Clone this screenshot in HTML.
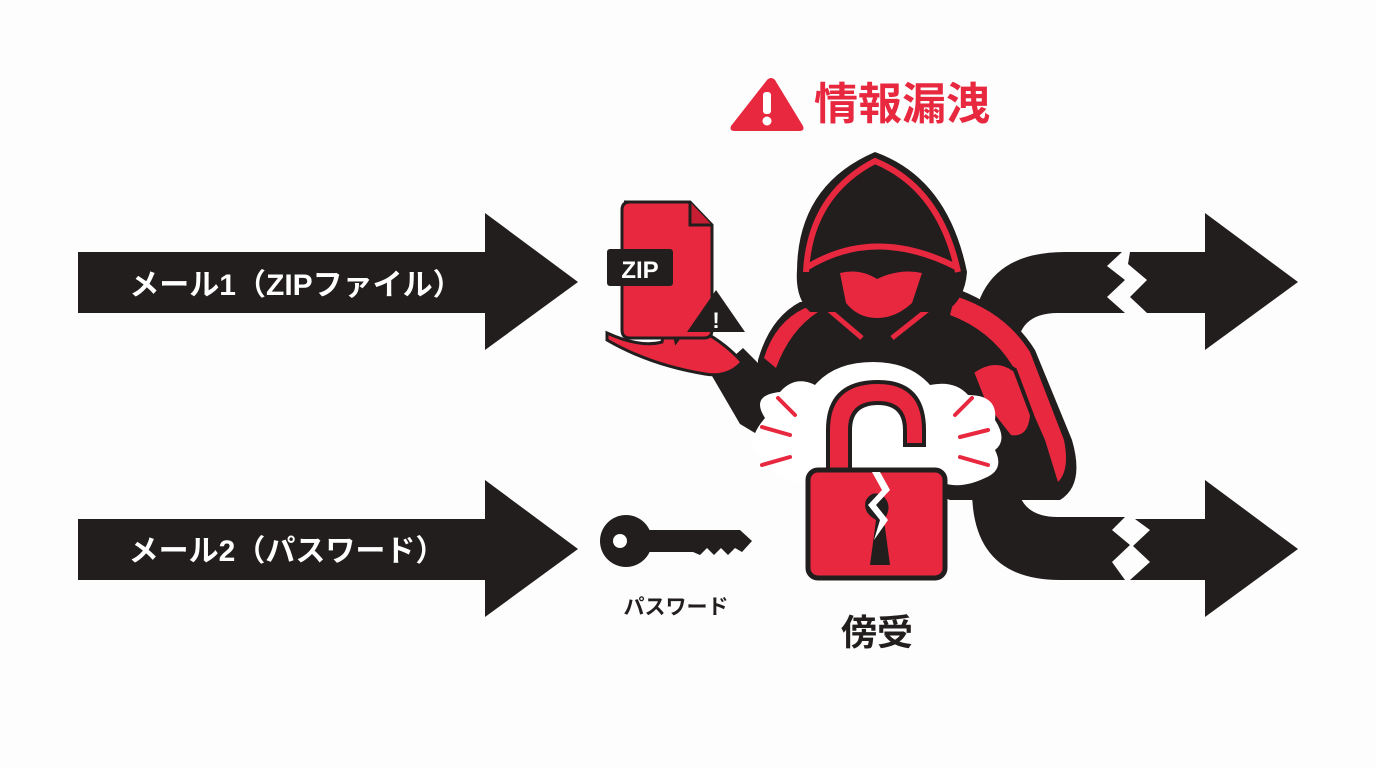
<!DOCTYPE html>
<html><head><meta charset="utf-8"><style>
html,body{margin:0;padding:0;background:#fdfdfd;}
svg{display:block}
text{font-family:"Liberation Sans","Noto Sans CJK JP",sans-serif;font-weight:bold}
</style></head><body>
<svg width="1376" height="768" viewBox="0 0 1376 768">
<rect width="1376" height="768" fill="#fdfdfd"/>
<!-- left arrows -->
<polygon points="78,252 485,252 485,213 578,282 485,350 485,313 78,313" fill="#221e1e"/>
<polygon points="78,519 485,519 485,480 578,549 485,617 485,580 78,580" fill="#221e1e"/>
<text x="296" y="295" font-size="30" fill="#fff" text-anchor="middle">メール1（ZIPファイル）</text>
<text x="287" y="561" font-size="30" fill="#fff" text-anchor="middle">メール2（パスワード）</text>
<!-- C shape -->
<path d="M1122,252 L1065,252 Q972,252 972,345 L972,490 Q972,580 1060,580 L1125,580 L1112,562 L1130,545 L1112,530 L1125,517 L1058,517 Q1017,517 1017,478 L1017,352 Q1017,313 1058,313 L1125,313 L1107,297 L1125,280 L1107,266 Z" fill="#221e1e"/>
<polygon points="1130,252 1205,252 1205,213 1298,282 1205,350 1205,313 1147,313 1130,297 1147,280 1128,264" fill="#221e1e"/>
<polygon points="1135,519 1205,519 1205,480 1298,549 1205,617 1205,580 1130,580 1150,562 1133,546 1150,530" fill="#221e1e"/>
<!-- left arm -->
<path d="M743,348 L712,376 L740,424 L760,436 L775,380 Z" fill="#221e1e"/>
<!-- body -->
<path d="M758,360 Q770,318 800,302 L960,290 Q1010,310 1035,350 L1072,440 Q1085,485 1060,500 L950,500 L800,440 L758,440 Z" fill="#221e1e"/>
<!-- shoulder red bands -->
<path d="M764,358 Q775,322 805,308 L818,312 Q790,330 776,368 Z" fill="#e8283f"/>
<path d="M955,296 Q1005,312 1030,352 L1064,440 Q1070,470 1058,482 L1045,440 L1012,365 Q990,330 950,315 Z" fill="#e8283f"/>
<path d="M808,292 L862,338" stroke="#e8283f" stroke-width="5"/>
<path d="M950,292 L892,338" stroke="#e8283f" stroke-width="5"/>
<!-- hood -->
<path d="M797,270 Q798,185 875,152 Q948,178 967,272 Q965,300 945,312 L810,312 Q795,298 797,270 Z" fill="#221e1e"/>
<path d="M806,272 Q810,195 875,161 Q940,188 958,272" fill="none" stroke="#e8283f" stroke-width="6"/>
<path d="M806,268 Q875,225 958,268" fill="none" stroke="#e8283f" stroke-width="6"/>
<path d="M840,273 Q860,268 877,279 Q900,268 922,273 L912,303 Q896,318 877,318 Q858,318 846,303 Z" fill="#e8283f"/>
<!-- left hand -->
<path d="M607,333 Q640,348 662,342 L668,305 L676,342 L692,320 L704,332 Q726,344 742,362 Q728,378 705,374 Q650,365 607,340 Z" fill="#e8283f" stroke="#221e1e" stroke-width="3"/>
<!-- zip file -->
<path d="M624,202 L690,202 L712,225 L712,330 Q712,338 704,338 L630,338 Q622,338 622,330 L622,210 Q622,202 630,202 Z" fill="#e8283f" stroke="#221e1e" stroke-width="3"/>
<path d="M690,202 L690,225 L712,225" fill="#c81e33" stroke="#221e1e" stroke-width="3"/>
<rect x="607" y="249" width="66" height="37" rx="3" fill="#221e1e"/>
<text x="640" y="278" font-size="24" fill="#fff" text-anchor="middle">ZIP</text>
<polygon points="716,290 745,332 687,332" fill="#221e1e"/>
<text x="716" y="328" font-size="22" fill="#fff" text-anchor="middle">!</text>
<!-- right fist -->
<path d="M972,372 Q995,355 1015,370 L1032,415 Q1030,440 1010,437 L985,405 Z" fill="#e8283f" stroke="#221e1e" stroke-width="4"/>
<!-- burst -->
<path d="M765,418 Q750,395 780,392 Q795,375 815,385 Q835,362 873,362 Q910,362 930,385 Q955,380 968,395 Q998,395 995,420 Q1008,440 995,450 Q1005,470 985,478 Q960,490 940,482 L800,482 Q770,478 762,460 Q742,445 765,418 Z" fill="#fff"/>
<g stroke="#e8283f" stroke-width="4" stroke-linecap="round">
<line x1="778" y1="398" x2="795" y2="415"/><line x1="762" y1="427" x2="790" y2="435"/><line x1="762" y1="465" x2="790" y2="457"/>
<line x1="955" y1="415" x2="972" y2="398"/><line x1="960" y1="437" x2="988" y2="430"/><line x1="960" y1="457" x2="988" y2="465"/>
</g>
<!-- lock -->
<path d="M828,480 L828,430 Q828,382 878,382 Q924,382 924,430 L924,445 L905,445 L905,430 Q905,403 878,403 Q850,403 850,430 L850,480 Z" fill="#e8283f" stroke="#221e1e" stroke-width="4"/>
<rect x="808" y="470" width="137" height="108" rx="10" fill="#e8283f" stroke="#221e1e" stroke-width="5"/>
<path d="M870,565 L876,520 Q862,512 866,500 Q872,490 882,495 Q894,505 884,520 L890,565 Z" fill="#221e1e"/>
<path d="M872,472 L882,490 L868,505 L880,520 L874,540 L888,520 L876,505 L890,490 L880,472 Z" fill="#fff"/>
<!-- key -->
<circle cx="626" cy="541" r="26" fill="#221e1e"/>
<circle cx="620" cy="541" r="7" fill="#fff"/>
<polygon points="645,530 740,530 752,541 742,552 735,548 728,555 721,548 714,555 707,548 700,555 693,552 645,552" fill="#221e1e"/>
<text x="676" y="614" font-size="21" fill="#221e1e" text-anchor="middle">パスワード</text>
<text x="877" y="645" font-size="36" fill="#221e1e" text-anchor="middle">傍受</text>
<!-- title -->
<path d="M767,80 Q771,76 775,80 L803,126 Q805,131 799,131 L735,131 Q729,131 731,126 Z" fill="#e8283f"/>
<rect x="763" y="92" width="8" height="22" rx="3" fill="#fff"/>
<circle cx="767" cy="121" r="4.5" fill="#fff"/>
<text x="902" y="119" font-size="44" fill="#e8283f" text-anchor="middle">情報漏洩</text>
</svg>
</body></html>
